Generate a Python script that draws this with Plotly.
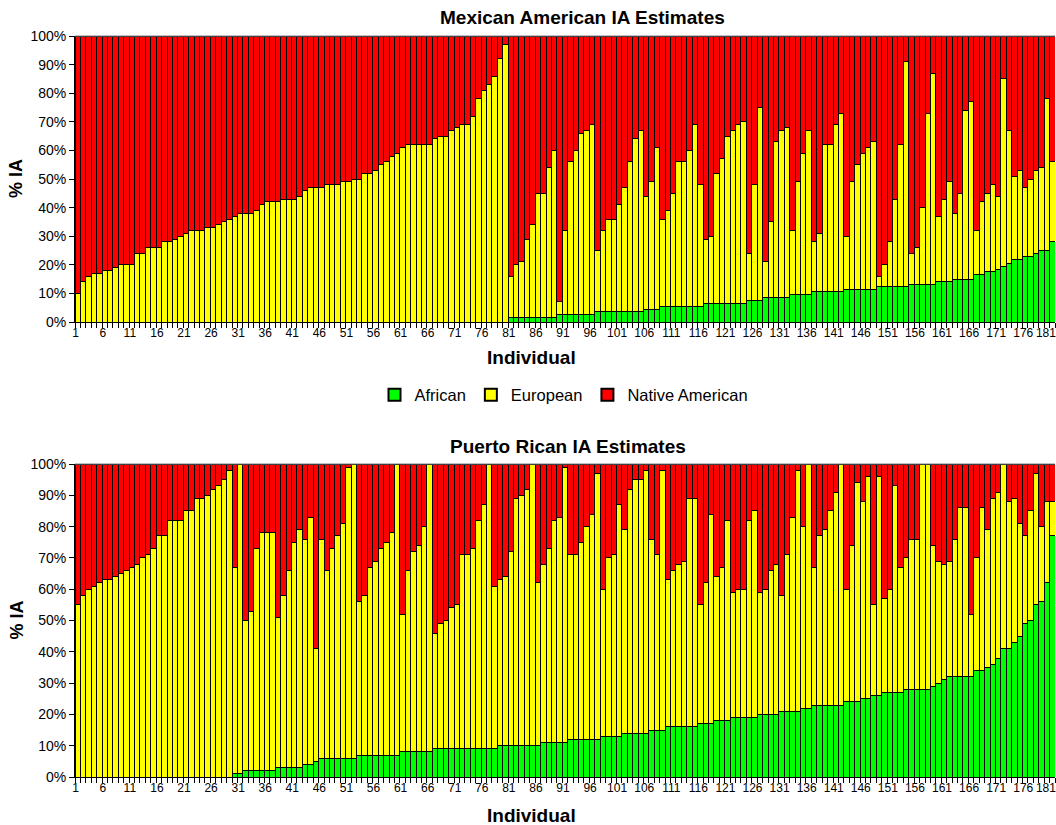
import plotly.graph_objects as go

# ---------------- data ----------------
individuals = list(range(1, 182))
tick_labels = ["1", "6", "11", "16", "21", "26", "31", "36", "41", "46", "51", "56", "61",
               "66", "71", "76", "81", "86", "91", "96", "101", "106", "111", "116", "121",
               "126", "131", "136", "141", "146", "151", "156", "161", "166", "171", "176",
               "181"]
series_names = ["African", "European", "Native American"]
series_colors = ["#00FF00", "#FFFF00", "#FF0000"]

# Mexican American: African share and cumulative (African + European) share, in %
mx_african = [
    0, 0, 0, 0, 0, 0, 0, 0, 0, 0,
    0, 0, 0, 0, 0, 0, 0, 0, 0, 0,
    0, 0, 0, 0, 0, 0, 0, 0, 0, 0,
    0, 0, 0, 0, 0, 0, 0, 0, 0, 0,
    0, 0, 0, 0, 0, 0, 0, 0, 0, 0,
    0, 0, 0, 0, 0, 0, 0, 0, 0, 0,
    0, 0, 0, 0, 0, 0, 0, 0, 0, 0,
    0, 0, 0, 0, 0, 0, 0, 0, 0, 0,
    1.5, 1.5, 1.5, 1.5, 1.5, 1.5, 1.5, 1.5, 1.5, 2.5,
    2.5, 2.5, 2.5, 2.5, 2.5, 2.5, 3.5, 3.5, 3.5, 3.5,
    3.5, 3.5, 3.5, 3.5, 3.5, 4.5, 4.5, 4.5, 5.5, 5.5,
    5.5, 5.5, 5.5, 5.5, 5.5, 5.5, 6.5, 6.5, 6.5, 6.5,
    6.5, 6.5, 6.5, 6.5, 7.5, 7.5, 7.5, 8.5, 8.5, 8.5,
    8.5, 8.5, 9.5, 9.5, 9.5, 9.5, 10.5, 10.5, 10.5, 10.5,
    10.5, 10.5, 11.5, 11.5, 11.5, 11.5, 11.5, 11.5, 12.5, 12.5,
    12.5, 12.5, 12.5, 12.5, 13, 13, 13, 13, 13, 14,
    14, 14, 15, 15, 15, 15, 16.5, 16.5, 17.5, 17.5,
    18.5, 19.5, 20.5, 22, 22, 23, 23, 24, 25, 25,
    28,
]
mx_afr_eur = [
    10, 14, 16, 17, 17, 18, 18, 19, 20, 20,
    20, 24, 24, 26, 26, 26, 28, 28, 29, 30,
    31, 32, 32, 32, 33, 33, 34, 35, 36, 37,
    38, 38, 38, 39, 41, 42, 42, 42, 43, 43,
    43, 44, 46, 47, 47, 47, 48, 48, 48, 49,
    49, 50, 50, 52, 52, 53, 55, 56, 58, 59,
    61, 62, 62, 62, 62, 62, 64, 65, 65, 67,
    68, 69, 69, 72, 78, 81, 83, 86, 92, 97,
    16, 20, 21, 29, 34, 45, 45, 54, 60, 7,
    32, 56, 60, 66, 67, 69, 25, 32, 36, 36,
    41, 47, 56, 64, 67, 44, 49, 61, 36, 39,
    45, 56, 56, 60, 69, 48, 29, 30, 52, 57,
    65, 67, 69, 70, 24, 48, 75, 21, 35, 63,
    67, 68, 32, 49, 59, 67, 28, 31, 62, 62,
    69, 73, 30, 49, 55, 59, 61, 63, 16, 20,
    28, 43, 62, 91, 24, 26, 40, 73, 87, 37,
    43, 49, 38, 45, 74, 77, 32, 42, 45, 48,
    44, 85, 67, 51, 53, 47, 50, 53, 54, 78,
    56,
]

# Puerto Rican
pr_african = [
    0, 0, 0, 0, 0, 0, 0, 0, 0, 0,
    0, 0, 0, 0, 0, 0, 0, 0, 0, 0,
    0, 0, 0, 0, 0, 0, 0, 0, 0, 1,
    1, 2, 2, 2, 2, 2, 2, 3, 3, 3,
    3, 3, 4, 4, 5, 6, 6, 6, 6, 6,
    6, 6, 7, 7, 7, 7, 7, 7, 7, 7,
    8, 8, 8, 8, 8, 8, 9, 9, 9, 9,
    9, 9, 9, 9, 9, 9, 9, 9, 10, 10,
    10, 10, 10, 10, 10, 10, 11, 11, 11, 11,
    11, 12, 12, 12, 12, 12, 12, 13, 13, 13,
    13, 14, 14, 14, 14, 14, 15, 15, 15, 16,
    16, 16, 16, 16, 16, 17, 17, 17, 18, 18,
    18, 19, 19, 19, 19, 19, 20, 20, 20, 20,
    21, 21, 21, 21, 22, 22, 23, 23, 23, 23,
    23, 23, 24, 24, 24, 25, 25, 26, 26, 27,
    27, 27, 27, 28, 28, 28, 28, 28, 29, 30,
    31, 32, 32, 32, 32, 32, 34, 34, 35, 36,
    38, 41, 41, 43, 45, 49, 50, 55, 56, 62,
    77,
]
pr_afr_eur = [
    55, 58, 60, 61, 62, 63, 63, 64, 65, 66,
    67, 68, 70, 71, 73, 77, 77, 82, 82, 82,
    85, 85, 89, 89, 90, 92, 93, 95, 98, 67,
    100, 50, 53, 73, 78, 78, 78, 51, 58, 66,
    75, 79, 76, 83, 41, 76, 66, 73, 77, 81,
    99, 100, 56, 58, 67, 69, 73, 75, 78, 100,
    52, 66, 72, 74, 80, 100, 46, 49, 50, 54,
    55, 71, 71, 73, 82, 87, 100, 61, 63, 64,
    72, 89, 90, 92, 100, 62, 68, 73, 82, 83,
    99, 71, 71, 75, 80, 84, 97, 60, 70, 71,
    87, 79, 92, 95, 95, 98, 76, 71, 98, 63,
    66, 68, 69, 89, 89, 55, 62, 84, 64, 67,
    82, 59, 60, 60, 82, 85, 59, 60, 66, 68,
    58, 71, 83, 98, 80, 100, 67, 77, 79, 85,
    91, 100, 60, 74, 94, 88, 96, 55, 96, 57,
    60, 93, 67, 70, 76, 76, 100, 100, 74, 69,
    68, 69, 76, 86, 86, 52, 70, 86, 79, 89,
    91, 100, 88, 89, 81, 77, 85, 97, 80, 88,
    88,
]

# ---------------- figure ----------------
W, H = 1056, 825
PLOT_L, PLOT_R = 75, 1055
PANELS = [  # (top px, bottom px)
    (36, 322),
    (464, 777),
]
FONT = "Liberation Sans, Arial, sans-serif"


def fx(px):
    return px / W


def fy(py):
    return 1 - py / H


# label positions on the category axis; the last label is nudged left so it
# stays inside the canvas, as in the reference
tick_positions = [float(t) for t in tick_labels]
tick_positions[-1] -= 0.8

fig = go.Figure()

datasets = [(mx_african, mx_afr_eur), (pr_african, pr_afr_eur)]
for i, (afr, cum) in enumerate(datasets):
    eur = [c - a for a, c in zip(afr, cum)]
    nat = [100 - c for c in cum]
    xa = "x" if i == 0 else "x2"
    ya = "y" if i == 0 else "y2"
    for name, vals, col in zip(series_names, [afr, eur, nat], series_colors):
        fig.add_trace(go.Bar(
            x=individuals, y=vals, name=name, xaxis=xa, yaxis=ya,
            marker=dict(color=col, line=dict(color="black", width=1)),
            showlegend=(i == 0), legendgroup=name, hoverinfo="skip",
        ))

axis_common_x = dict(
    range=[0.5, 181.5], tickmode="array", tickvals=tick_positions, ticktext=tick_labels,
    ticks="", tickangle=0, showline=True, linecolor="black", linewidth=1, showgrid=False,
    zeroline=False, tickfont=dict(family=FONT, size=12, color="black"), automargin=False,
    ticklabeloverflow="allow", ticklabelshift=-2,
    minor=dict(tickmode="linear", tick0=0.5, dtick=1, ticks="outside", ticklen=5,
               tickcolor="black", tickwidth=1, showgrid=False),
    fixedrange=True,
)
axis_common_y = dict(
    range=[0, 100], tickmode="linear", tick0=0, dtick=10, ticksuffix="%",
    ticks="outside", ticklen=5, tickcolor="black", showline=True, linecolor="black",
    linewidth=1, showgrid=False, zeroline=False, automargin=False, fixedrange=True,
    tickfont=dict(family=FONT, size=14, color="black"),
)

layout = dict(
    width=W, height=H, margin=dict(l=0, r=0, t=0, b=0, autoexpand=False),
    paper_bgcolor="white", plot_bgcolor="white",
    barmode="stack", bargap=0,
    font=dict(family=FONT, color="black"),
    legend=dict(orientation="h", x=fx(564), xanchor="center", y=fy(395), yanchor="middle",
                font=dict(family=FONT, size=16.5, color="black"), traceorder="normal",
                itemsizing="constant"),
)
for i, (top, bot) in enumerate(PANELS):
    sx = "" if i == 0 else "2"
    layout["xaxis" + sx] = dict(axis_common_x, domain=[fx(PLOT_L), fx(PLOT_R)],
                                anchor="y" + sx)
    layout["yaxis" + sx] = dict(axis_common_y, domain=[fy(bot), fy(top)],
                                anchor="x" + sx)
fig.update_layout(**layout)

titles = [("Mexican American IA Estimates", 582, 17), ("Puerto Rican IA Estimates", 568, 446)]
for text, cx, cy in titles:
    fig.add_annotation(text=f"<b>{text}</b>", x=fx(cx), y=fy(cy), xref="paper", yref="paper",
                       xanchor="center", yanchor="middle", showarrow=False,
                       font=dict(family=FONT, size=19, color="black"))
for (top, bot), xt_y in zip(PANELS, [357, 815]):
    fig.add_annotation(text="<b>Individual</b>", x=fx(531), y=fy(xt_y), xref="paper",
                       yref="paper", xanchor="center", yanchor="middle", showarrow=False,
                       font=dict(family=FONT, size=19, color="black"))
    fig.add_annotation(text="<b>% IA</b>", x=fx(16), y=fy((top + bot) / 2), xref="paper",
                       yref="paper", xanchor="center", yanchor="middle", showarrow=False,
                       textangle=-90, font=dict(family=FONT, size=18, color="black"))
    fig.add_shape(type="line", xref="paper", yref="paper", x0=fx(PLOT_L), x1=fx(PLOT_R),
                  y0=fy(top), y1=fy(top), line=dict(color="#808080", width=1))

fig.write_html(
    "out.html",
    config={"displayModeBar": False, "staticPlot": True},
    post_script="document.body.style.margin='0';document.body.style.overflow='hidden';",
)
